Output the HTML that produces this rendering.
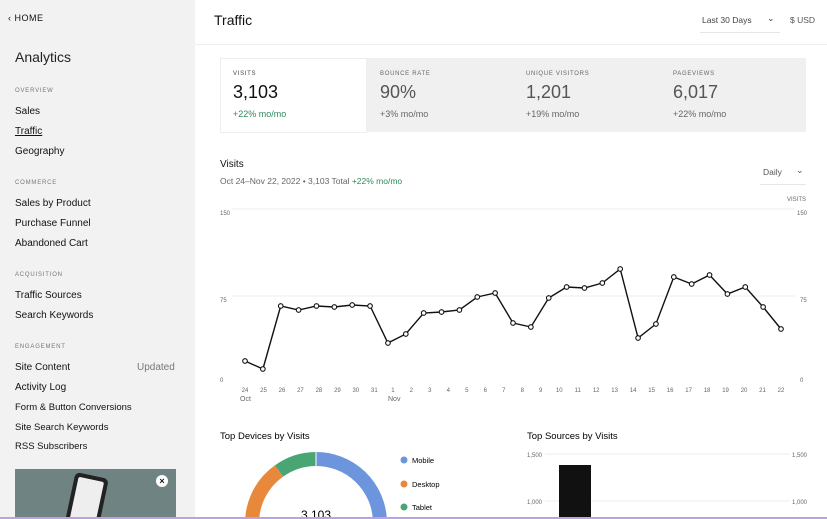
<!DOCTYPE html>
<html style="overflow:hidden"><head><meta charset="utf-8"><style>
*{margin:0;padding:0;box-sizing:border-box}
body{width:827px;height:519px;overflow:hidden;background:#fff;font-family:"Liberation Sans",sans-serif;color:#111;position:relative}
.a{position:absolute;white-space:nowrap}
#side{position:absolute;left:0;top:0;width:195px;height:519px;background:#f2f2f2;overflow:hidden}
.nav{font-size:10px;color:#111;left:15px}
.sec{font-size:6px;color:#777;letter-spacing:.8px;left:15px}
.lab{font-size:6px;color:#444;letter-spacing:.7px}
.big{font-size:18px}
.chg{font-size:9px;color:#666}
.t{font-size:6px;fill:#666;font-family:"Liberation Sans",sans-serif}
</style></head><body>
<div id="side">
<div class="a" style="left:8px;top:13px;font-size:9px;letter-spacing:.5px">&#8249;&nbsp;HOME</div>
<div class="a" style="left:15px;top:49px;font-size:14px;color:#222">Analytics</div>
<div class="a sec" style="top:88px">OVERVIEW</div>
<div class="a nav" style="top:106px">Sales</div>
<div class="a nav" style="top:126px;text-decoration:underline">Traffic</div>
<div class="a nav" style="top:146px">Geography</div>
<div class="a sec" style="top:180px">COMMERCE</div>
<div class="a nav" style="top:198px">Sales by Product</div>
<div class="a nav" style="top:218px">Purchase Funnel</div>
<div class="a nav" style="top:238px">Abandoned Cart</div>
<div class="a sec" style="top:272px">ACQUISITION</div>
<div class="a nav" style="top:290px">Traffic Sources</div>
<div class="a nav" style="top:310px">Search Keywords</div>
<div class="a sec" style="top:344px">ENGAGEMENT</div>
<div class="a nav" style="top:362px">Site Content</div>
<div class="a" style="left:137px;top:362px;font-size:10px;color:#777">Updated</div>
<div class="a nav" style="top:382px">Activity Log</div>
<div class="a nav" style="top:402px;font-size:9.5px">Form &amp; Button Conversions</div>
<div class="a nav" style="top:422px;font-size:9.5px">Site Search Keywords</div>
<div class="a nav" style="top:441px;font-size:9.5px">RSS Subscribers</div>
<div class="a" style="left:15px;top:469px;width:161px;height:50px;background:#6f8383;overflow:hidden">
 <div class="a" style="left:55px;top:6px;width:34px;height:50px;background:#222;border-radius:5px;transform:rotate(12deg)"><div style="margin:4px;height:44px;background:#eee;border-radius:2px"></div></div>
 <div class="a" style="left:141px;top:6px;width:12px;height:12px;border-radius:50%;background:#fff;font-size:9px;text-align:center;line-height:12px;font-weight:bold">×</div>
</div>
</div>
<div class="a" style="left:195px;top:44px;width:632px;height:1px;background:#eee"></div>
<div class="a" style="left:214px;top:12px;font-size:14px">Traffic</div>
<div class="a" style="left:702px;top:15px;font-size:8.5px;color:#444">Last 30 Days</div>
<div class="a" style="left:767px;top:13px;font-size:9px;color:#444">&#8964;</div>
<div class="a" style="left:700px;top:32px;width:80px;height:1px;background:#e6e6e6"></div>
<div class="a" style="left:790px;top:15px;font-size:8.5px;color:#555">$ USD</div>

<div class="a" style="left:220px;top:58px;width:586px;height:74px;background:#f0f0f0"></div>
<div class="a" style="left:220px;top:58px;width:147px;height:75px;background:#fff;border:1px solid #eee"></div>
<div class="a lab" style="left:233px;top:71px">VISITS</div>
<div class="a big" style="left:233px;top:82px">3,103</div>
<div class="a chg" style="left:233px;top:109px;color:#2c8a5a">+22% mo/mo</div>
<div class="a lab" style="left:380px;top:71px;color:#666">BOUNCE RATE</div>
<div class="a big" style="left:380px;top:82px;color:#555">90%</div>
<div class="a chg" style="left:380px;top:109px">+3% mo/mo</div>
<div class="a lab" style="left:526px;top:71px;color:#666">UNIQUE VISITORS</div>
<div class="a big" style="left:526px;top:82px;color:#555">1,201</div>
<div class="a chg" style="left:526px;top:109px">+19% mo/mo</div>
<div class="a lab" style="left:673px;top:71px;color:#666">PAGEVIEWS</div>
<div class="a big" style="left:673px;top:82px;color:#555">6,017</div>
<div class="a chg" style="left:673px;top:109px">+22% mo/mo</div>

<div class="a" style="left:220px;top:159px;font-size:10px">Visits</div>
<div class="a" style="left:220px;top:176px;font-size:8.5px;color:#666">Oct 24–Nov 22, 2022 • 3,103 Total <span style="color:#2c8a5a">+22% mo/mo</span></div>
<div class="a" style="left:763px;top:167px;font-size:8.5px;color:#555">Daily</div>
<div class="a" style="left:796px;top:165px;font-size:9px;color:#555">&#8964;</div>
<div class="a" style="left:760px;top:184px;width:46px;height:1px;background:#e6e6e6"></div>

<svg class="a" style="left:0;top:0" width="827" height="519">
<text class="t" x="787" y="201">VISITS</text>
<line x1="232" y1="209" x2="795" y2="209" stroke="#eee"/>
<line x1="232" y1="296" x2="795" y2="296" stroke="#eee"/>
<text class="t" x="220" y="215">150</text><text class="t" x="797" y="215">150</text>
<text class="t" x="220" y="302">75</text><text class="t" x="800" y="302">75</text>
<text class="t" x="220" y="382">0</text><text class="t" x="800" y="382">0</text>
<g id="lab"></g>
<polyline id="pl" fill="none" stroke="#111" stroke-width="1.4"/>
<g id="pts"></g>
<text class="t" x="240" y="401" style="font-size:7px">Oct</text>
<text class="t" x="388" y="401" style="font-size:7px">Nov</text>

<text x="220" y="439" style="font-size:9.5px;font-family:'Liberation Sans'">Top Devices by Visits</text>
<text x="527" y="439" style="font-size:9.5px;font-family:'Liberation Sans'">Top Sources by Visits</text>
<g fill="none" stroke-width="14">
<path d="M316 459 A64 64 0 1 1 252.5 531" stroke="#6c95de"/>
<path d="M252.5 531 A64 64 0 0 1 279 471" stroke="#e8883a"/>
<path d="M279 471 A64 64 0 0 1 316 459" stroke="#4aa574"/>
</g>
<line x1="316" y1="452" x2="316" y2="466" stroke="#fff" stroke-width="1"/>
<text x="301" y="519" style="font-size:12px;font-family:'Liberation Sans'">3,103</text>
<circle cx="404" cy="460" r="3.5" fill="#6c95de"/><text x="412" y="463" style="font-size:7.5px;font-family:'Liberation Sans'">Mobile</text>
<circle cx="404" cy="484" r="3.5" fill="#e8883a"/><text x="412" y="487" style="font-size:7.5px;font-family:'Liberation Sans'">Desktop</text>
<circle cx="404" cy="507" r="3.5" fill="#4aa574"/><text x="412" y="510" style="font-size:7.5px;font-family:'Liberation Sans'">Tablet</text>
<line x1="545" y1="454" x2="790" y2="454" stroke="#eee"/>
<line x1="545" y1="501" x2="790" y2="501" stroke="#eee"/>
<text class="t" x="527" y="457">1,500</text><text class="t" x="792" y="457">1,500</text>
<text class="t" x="527" y="504">1,000</text><text class="t" x="792" y="504">1,000</text>
<rect x="559" y="465" width="32" height="52" fill="#111"/>
<rect x="0" y="517" width="827" height="2" fill="#b9a3e6"/>
</svg>
<script>
var ys=[361,369,306,310,306,307,305,306,343,334,313,312,310,297,293,323,327,298,287,288,283,269,338,324,277,284,275,294,287,307,329];
var labs=["24","25","26","27","28","29","30","31","1","2","3","4","5","6","7","8","9","10","11","12","13","14","15","16","17","18","19","20","21","22"];
var ns="http://www.w3.org/2000/svg",pts=[],g=document.getElementById("pts"),L=document.getElementById("lab");
for(var i=0;i<ys.length;i++){var x=245+i*(536/30);pts.push(x.toFixed(1)+","+ys[i]);
var c=document.createElementNS(ns,"circle");c.setAttribute("cx",x);c.setAttribute("cy",ys[i]);c.setAttribute("r",2.3);c.setAttribute("fill","#fff");c.setAttribute("stroke","#111");c.setAttribute("stroke-width","1.1");g.appendChild(c);}
document.getElementById("pl").setAttribute("points",pts.join(" "));
for(var j=0;j<30;j++){var t=document.createElementNS(ns,"text");t.setAttribute("class","t");t.setAttribute("x",245+j*(536/29));t.setAttribute("y",392);t.setAttribute("text-anchor","middle");t.textContent=labs[j];L.appendChild(t);}
</script>
</body></html>
